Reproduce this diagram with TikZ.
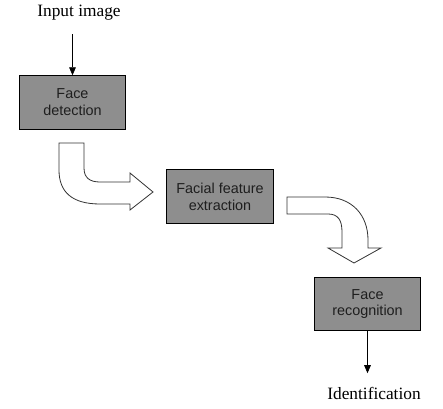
\documentclass[tikz,border=0pt]{standalone}
\usepackage{fontspec}
\setmainfont{Liberation Serif}
\setsansfont{Liberation Sans}
\usepackage{xcolor}
\usetikzlibrary{arrows.meta}
\definecolor{stagebg}{RGB}{142,142,142}
\definecolor{stagetext}{RGB}{30,30,30}

\begin{document}
\begin{tikzpicture}[x=0.75pt, y=-0.75pt, >={Triangle[length=6pt,width=5pt]},
  stage/.style={draw, fill=stagebg, text=stagetext, align=center,
    font=\sffamily\fontsize{10.8}{12.6}\selectfont,
    minimum width=80pt, minimum height=40pt, inner sep=2pt, line width=0.8pt},
  iotext/.style={font=\fontsize{13}{15}\selectfont, inner sep=2pt},
  turnarrow/.style={draw=black!80, fill=white, line width=0.6pt, line join=miter}]
  \useasboundingbox (0,0) rectangle (443,409);
  \node[iotext] (in) at (79,13) {Input image};
  \node[stage] (fd) at (72.5,102.5) {Face\\detection};
  \node[stage] (fx) at (220,196.5) {Facial feature\\extraction};
  \node[stage] (fr) at (367.5,304) {Face\\recognition};
  \node[iotext] (id) at (374,393) {Identification};
  \draw[->, line width=0.6pt, shorten <=8pt] (fd.north |- in.south) -- (fd.north);
  \draw[->, line width=0.6pt, shorten >=8pt] (fr.south) -- (fr.south |- id.north);
  % block arrows between stages
  \path[turnarrow] (59,143) -- (84,143) -- (84,168) .. controls (84,178) and (90,182) .. (100,182)
    -- (130,182) -- (130,173) -- (153,192) -- (130,210) -- (130,204) -- (100,204)
    .. controls (72,204) and (59,192) .. (59,170) -- cycle;
  \path[turnarrow] (287,197) -- (325,197) .. controls (352,197) and (368,215) .. (368,240)
    -- (368,248) -- (381,248) -- (354,263) -- (328,248) -- (342,248) -- (342,232)
    .. controls (342,220) and (338,214) .. (328,214) -- (287,214) -- cycle;
\end{tikzpicture}
\end{document}
